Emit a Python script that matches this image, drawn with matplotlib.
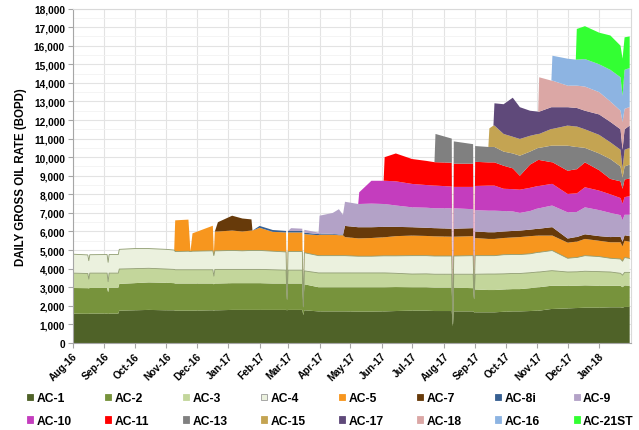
import matplotlib
matplotlib.use("Agg")
import matplotlib.pyplot as plt
import matplotlib.dates as mdates
from matplotlib.patches import Patch
from matplotlib.ticker import MultipleLocator, FuncFormatter
import numpy as np
import pandas as pd

dates = ["2016-08-01", "2016-08-16", "2016-08-17", "2016-08-18", "2016-09-04",
         "2016-09-05", "2016-09-06", "2016-09-15", "2016-09-16", "2016-10-01",
         "2016-10-15", "2016-11-01", "2016-11-09", "2016-11-10", "2016-11-23",
         "2016-11-25", "2016-11-27", "2016-12-17", "2016-12-18", "2016-12-19",
         "2016-12-22", "2017-01-05", "2017-01-15", "2017-01-24", "2017-01-25",
         "2017-02-01", "2017-02-14", "2017-02-27", "2017-02-28", "2017-03-01",
         "2017-03-04", "2017-03-15", "2017-03-16", "2017-03-17", "2017-03-31",
         "2017-04-01", "2017-04-14", "2017-04-20", "2017-04-24", "2017-04-26",
         "2017-05-09", "2017-05-10", "2017-05-22", "2017-06-03", "2017-06-04",
         "2017-06-15", "2017-07-01", "2017-07-15", "2017-07-23", "2017-07-24",
         "2017-08-09", "2017-08-10", "2017-08-11", "2017-08-30", "2017-08-31",
         "2017-09-01", "2017-09-14", "2017-09-15", "2017-09-19", "2017-09-20",
         "2017-09-29", "2017-10-08", "2017-10-15", "2017-10-25", "2017-11-02",
         "2017-11-03", "2017-11-15", "2017-11-16", "2017-12-01", "2017-12-09",
         "2017-12-10", "2017-12-18", "2018-01-01", "2018-01-12", "2018-01-22",
         "2018-01-24", "2018-01-26", "2018-01-31"]

ac1 = [1580, 1570, 1570, 1580, 1580, 1560, 1580, 1580, 1740, 1760,
       1780, 1760, 1760, 1740, 1740, 1740, 1740, 1760, 1740, 1760,
       1760, 1780, 1780, 1780, 1780, 1780, 1780, 1780, 1760, 1780,
       1780, 1780, 1500, 1760, 1700, 1700, 1700, 1700, 1700, 1700,
       1690, 1690, 1690, 1700, 1700, 1720, 1740, 1740, 1720, 1720,
       1720, 900, 1700, 1700, 1650, 1650, 1650, 1650, 1650, 1650,
       1680, 1700, 1700, 1720, 1740, 1740, 1830, 1830, 1860, 1880,
       1880, 1900, 1900, 1920, 1920, 1900, 1940, 1940]
ac2 = [1380, 1380, 1370, 1380, 1390, 1170, 1390, 1390, 1440, 1460,
       1480, 1480, 1460, 1460, 1460, 1460, 1460, 1440, 1420, 1440,
       1440, 1440, 1440, 1440, 1440, 1440, 1420, 1420, 540, 1420,
       1420, 1420, 400, 1400, 1300, 1300, 1300, 1300, 1300, 1300,
       1310, 1310, 1310, 1300, 1300, 1290, 1260, 1260, 1260, 1260,
       1260, 100, 1280, 1250, 700, 1230, 1200, 1200, 1200, 1200,
       1200, 1200, 1200, 1230, 1260, 1260, 1250, 1250, 1220, 1200,
       1200, 1200, 1180, 1160, 1160, 1100, 1160, 1140]
ac3 = [800, 790, 500, 800, 790, 570, 790, 790, 800, 780,
       760, 740, 740, 740, 740, 740, 740, 740, 440, 760,
       760, 740, 740, 740, 740, 740, 740, 720, 50, 720,
       720, 720, 50, 720, 770, 770, 770, 770, 770, 770,
       770, 770, 770, 770, 770, 740, 710, 720, 720, 720,
       720, 30, 720, 750, 50, 820, 860, 860, 860, 860,
       840, 840, 840, 830, 820, 820, 810, 810, 740, 750,
       750, 760, 760, 740, 670, 650, 700, 720]
ac4 = [1020, 1000, 990, 990, 1000, 1040, 1000, 1000, 1060, 1080,
       1060, 1060, 1040, 980, 1000, 980, 1000, 1020, 1100, 1000,
       1000, 1020, 1000, 1020, 1020, 1020, 1000, 980, 50, 1000,
       1000, 1000, 50, 980, 930, 930, 930, 930, 930, 930,
       900, 900, 900, 920, 920, 940, 990, 980, 980, 980,
       980, 30, 980, 1000, 50, 1000, 990, 990, 990, 990,
       1030, 1020, 1020, 1020, 1060, 1060, 1080, 1080, 740, 770,
       770, 840, 810, 740, 770, 750, 800, 750]
ac5 = [0, 0, 0, 0, 0, 0, 0, 0, 0, 0, 0, 0,
       0, 1680, 1700, 0, 960, 1350, 100, 1040, 1040, 1070,
       1040, 1070, 1070, 1220, 1040, 1050, 50, 1030, 1030, 1030,
       100, 1000, 1100, 1130, 1130, 1100, 1100, 1000, 960, 960,
       980, 1000, 1000, 1060, 1080, 1060, 1060, 1060, 1040, 30,
       1040, 1050, 30, 950, 900, 900, 900, 900, 900, 920,
       940, 950, 900, 900, 810, 810, 840, 850, 850, 900,
       850, 860, 900, 800, 900, 900]
ac7 = [0, 0, 0, 0, 0, 0, 0, 0, 0, 0, 0, 0,
       0, 0, 0, 0, 0, 0, 0, 0, 500, 800,
       700, 600, 0, 0, 0, 0, 0, 0, 0, 0,
       0, 0, 0, 0, 0, 0, 0, 600, 600, 600,
       580, 560, 560, 500, 450, 440, 440, 440, 430, 0,
       430, 430, 0, 350, 360, 360, 360, 360, 350, 350,
       350, 350, 370, 370, 450, 450, 220, 250, 250, 250,
       250, 280, 300, 250, 300, 300]
ac8i = [0, 0, 0, 0, 0, 0, 0, 0, 0, 0, 0, 0,
        0, 0, 0, 0, 0, 0, 0, 0, 0, 0,
        0, 0, 0, 100, 100, 80, 0, 80, 80, 80,
        0, 80, 60, 60, 40, 40, 40, 0, 0, 0,
        0, 0, 0, 0, 0, 0, 0, 0, 0, 0,
        0, 0, 0, 0, 0, 0, 0, 0, 0, 0,
        0, 0, 0, 0, 0, 0, 0, 0, 0, 0,
        0, 0, 0, 0, 0, 0]
ac9 = [0, 0, 0, 0, 0, 0, 0, 0, 0, 0, 0, 0,
       0, 0, 0, 0, 0, 0, 0, 0, 0, 0,
       0, 0, 0, 0, 0, 0, 0, 0, 150, 120,
       0, 150, 80, 960, 1130, 1360, 1060, 1300, 1250, 1250,
       1270, 1230, 1230, 1150, 1070, 1080, 1070, 1070, 1100, 30,
       1100, 1020, 0, 1150, 1160, 1160, 1160, 1160, 1100, 1050,
       950, 1000, 1100, 1100, 1160, 1160, 1410, 1350, 1350, 1450,
       1400, 1300, 1160, 1150, 1100, 1150]
ac10 = [0, 0, 0, 0, 0, 0, 0, 0, 0, 0, 0, 0,
        0, 0, 0, 0, 0, 0, 0, 0, 0, 0,
        0, 0, 0, 0, 0, 0, 0, 0, 0, 0,
        0, 0, 0, 0, 0, 0, 0, 0, 0, 630,
        1230, 1250, 1250, 1300, 1260, 1220, 1220, 1220, 1170, 30,
        1150, 1200, 0, 1300, 1350, 1350, 1350, 1350, 1200, 1200,
        1250, 1250, 1200, 1200, 1170, 1170, 990, 1000, 1000, 1080,
        1050, 1000, 920, 900, 950, 1000]
ac11 = [0, 0, 0, 0, 0, 0, 0, 0, 0, 0, 0, 0,
        0, 0, 0, 0, 0, 0, 0, 0, 0, 0,
        0, 0, 0, 0, 0, 0, 0, 0, 0, 0,
        0, 0, 0, 0, 0, 0, 0, 0, 0, 0,
        0, 0, 1270, 1500, 1340, 1300, 1260, 1260, 1280, 30,
        1250, 1250, 0, 1300, 1250, 1250, 1250, 1250, 1240, 1120,
        750, 1250, 1400, 1400, 1170, 1170, 1250, 1300, 1300, 1340,
        1100, 830, 900, 800, 950, 950]
ac13 = [0, 0, 0, 0, 0, 0, 0, 0, 0, 0, 0, 0,
        0, 0, 0, 0, 0, 0, 0, 0, 0, 0,
        0, 0, 0, 0, 0, 0, 0, 0, 0, 0,
        0, 0, 0, 0, 0, 0, 0, 0, 0, 0,
        0, 0, 0, 0, 0, 0, 0, 1520, 1300, 30,
        1200, 1050, 0, 850, 830, 830, 830, 830, 760, 800,
        1080, 700, 650, 650, 890, 890, 1350, 1200, 1200, 780,
        900, 1070, 800, 600, 700, 750]
ac15 = [0, 0, 0, 0, 0, 0, 0, 0, 0, 0, 0, 0,
        0, 0, 0, 0, 0, 0, 0, 0, 0, 0,
        0, 0, 0, 0, 0, 0, 0, 0, 0, 0,
        0, 0, 0, 0, 0, 0, 0, 0, 0, 0,
        0, 0, 0, 0, 0, 0, 0, 0, 0, 0,
        0, 0, 0, 0, 0, 1000, 1150, 1150, 950, 900,
        900, 850, 750, 750, 900, 900, 1080, 1100, 1100, 1000,
        1000, 900, 900, 500, 900, 900]
ac17 = [0, 0, 0, 0, 0, 0, 0, 0, 0, 0, 0, 0,
        0, 0, 0, 0, 0, 0, 0, 0, 0, 0,
        0, 0, 0, 0, 0, 0, 0, 0, 0, 0,
        0, 0, 0, 0, 0, 0, 0, 0, 0, 0,
        0, 0, 0, 0, 0, 0, 0, 0, 0, 0,
        0, 0, 0, 0, 0, 0, 0, 1200, 1600, 2100,
        1710, 1350, 1200, 1200, 1170, 1170, 990, 1000, 1000, 1000,
        1100, 1100, 1100, 1000, 1100, 1200]
ac18 = [0, 0, 0, 0, 0, 0, 0, 0, 0, 0, 0, 0,
        0, 0, 0, 0, 0, 0, 0, 0, 0, 0,
        0, 0, 0, 0, 0, 0, 0, 0, 0, 0,
        0, 0, 0, 0, 0, 0, 0, 0, 0, 0,
        0, 0, 0, 0, 0, 0, 0, 0, 0, 0,
        0, 0, 0, 0, 0, 0, 0, 0, 0, 0,
        0, 0, 0, 1850, 1430, 1430, 1160, 1200, 1200, 1300,
        1200, 1100, 1000, 1500, 1100, 1000]
ac16 = [0, 0, 0, 0, 0, 0, 0, 0, 0, 0, 0, 0,
        0, 0, 0, 0, 0, 0, 0, 0, 0, 0,
        0, 0, 0, 0, 0, 0, 0, 0, 0, 0,
        0, 0, 0, 0, 0, 0, 0, 0, 0, 0,
        0, 0, 0, 0, 0, 0, 0, 0, 0, 0,
        0, 0, 0, 0, 0, 0, 0, 0, 0, 0,
        0, 0, 0, 0, 0, 1340, 1450, 1400, 1400, 1480,
        1500, 1700, 1800, 1400, 2100, 2100]
ac21st = [0, 0, 0, 0, 0, 0, 0, 0, 0, 0, 0, 0,
          0, 0, 0, 0, 0, 0, 0, 0, 0, 0,
          0, 0, 0, 0, 0, 0, 0, 0, 0, 0,
          0, 0, 0, 0, 0, 0, 0, 0, 0, 0,
          0, 0, 0, 0, 0, 0, 0, 0, 0, 0,
          0, 0, 0, 0, 0, 0, 0, 0, 0, 0,
          0, 0, 0, 0, 0, 0, 0, 0, 1650, 1770,
          1700, 1850, 1700, 2000, 1750, 1700]

wells = ["AC-1", "AC-2", "AC-3", "AC-4", "AC-5", "AC-7", "AC-8i", "AC-9",
         "AC-10", "AC-11", "AC-13", "AC-15", "AC-17", "AC-18", "AC-16", "AC-21ST"]
series = [ac1, ac2, ac3, ac4, ac5, ac7, ac8i, ac9,
          ac10, ac11, ac13, ac15, ac17, ac18, ac16, ac21st]
colors = ["#4F6228", "#77933C", "#C3D69B", "#EBF1DE", "#F7961E", "#673A0A",
          "#376092", "#B3A2C7", "#C43DBE", "#FF0000", "#808080", "#C4A452",
          "#5F497A", "#DBA7A5", "#8DB4E2", "#33FF33"]

plt.rcParams["font.family"] = ["Liberation Sans", "DejaVu Sans"]

x = pd.to_datetime(dates)
fig = plt.figure(figsize=(6.39, 4.31), dpi=100)
ax = fig.add_axes([0.1135, 0.2019, 0.8735, 0.776])

ax.set_axisbelow(True)
ax.yaxis.set_major_locator(MultipleLocator(1000))
ax.yaxis.set_minor_locator(MultipleLocator(500))
ax.grid(which="major", axis="both", color="#E3E3E3", linewidth=0.8)
ax.grid(which="minor", axis="y", color="#F2F2F2", linewidth=0.6)

polys = ax.stackplot(x, *series, colors=colors, labels=wells, linewidth=0)

cum = np.cumsum(np.array(series, dtype=float), axis=0)
ax.plot(x, cum[2], color="#8F9C70", linewidth=0.6)
ax.plot(x, cum[3], color="#8F9C70", linewidth=0.6)

ax.set_xlim(pd.Timestamp("2016-08-01"), pd.Timestamp("2018-02-01"))
ax.set_ylim(0, 18000)
ticks = pd.date_range("2016-08-01", "2018-01-01", freq="MS")
ax.set_xticks(ticks)
ax.xaxis.set_major_formatter(mdates.DateFormatter("%b-%y"))
ax.yaxis.set_major_formatter(FuncFormatter(lambda v, p: f"{int(v):,}"))
ax.tick_params(axis="y", which="minor", length=0)
ax.tick_params(axis="both", which="major", length=3.5, color="#A6A6A6",
               labelsize=7.3, pad=2)
for lab in ax.get_yticklabels():
    lab.set_fontweight("bold")
for lab in ax.get_xticklabels():
    lab.set_fontweight("bold")
    lab.set_rotation(45)
    lab.set_ha("right")
    lab.set_rotation_mode("anchor")

for s in ["top", "right"]:
    ax.spines[s].set_color("#D9D9D9")
for s in ["left", "bottom"]:
    ax.spines[s].set_color("#A6A6A6")

ax.set_ylabel("DAILY GROSS OIL RATE (BOPD)", fontsize=8.3, fontweight="bold",
              labelpad=5)

handles = []
for w, c in zip(wells, colors):
    ec = "#9A9A9A" if w == "AC-4" else c
    handles.append(Patch(facecolor=c, edgecolor=ec, linewidth=0.6, label=w))
# legend fills column by column: interleave so rows read left to right
ordered = []
for i in range(8):
    ordered.append(handles[i])
    ordered.append(handles[i + 8])
fig.legend(handles=ordered, ncol=8, loc="upper left",
           bbox_to_anchor=(0.033, 0.1015), frameon=False,
           prop={"weight": "bold", "size": 8.7},
           handlelength=0.5, handleheight=0.5, handletextpad=0.28,
           columnspacing=2.78, labelspacing=0.9, borderpad=0)

fig.savefig("out.png", dpi=100)
